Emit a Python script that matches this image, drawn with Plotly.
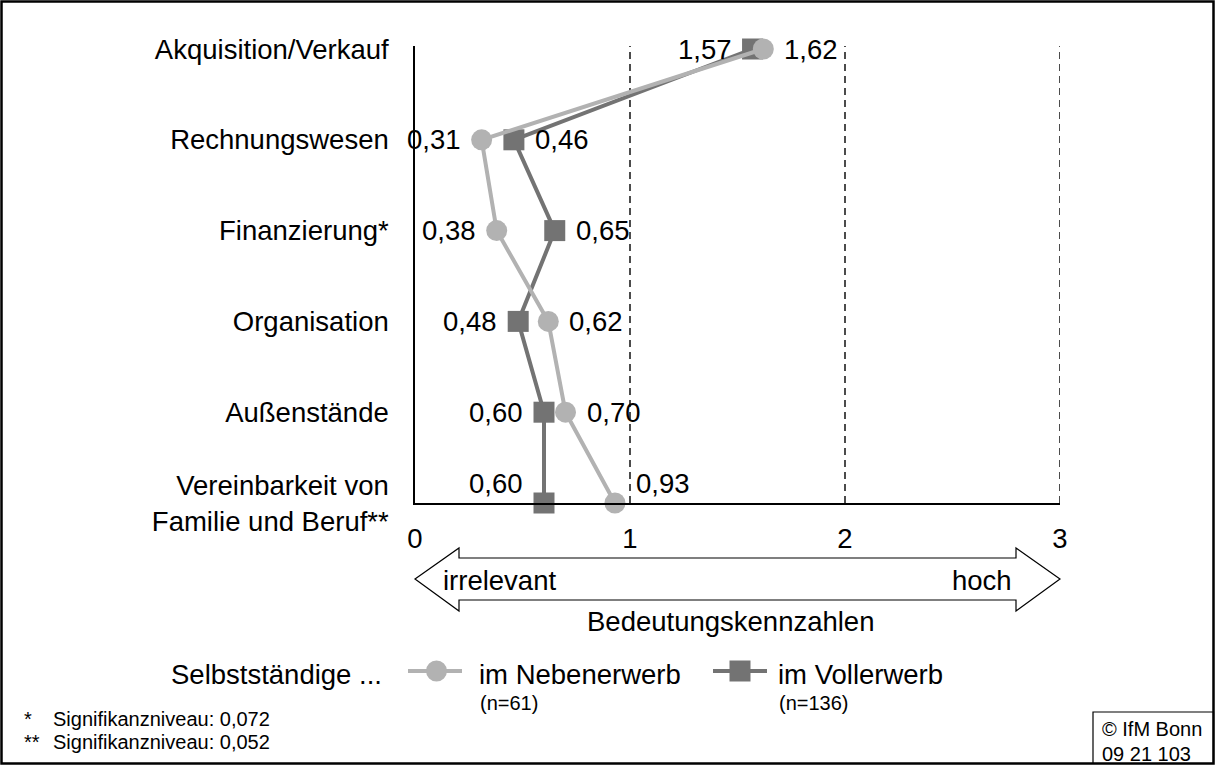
import plotly.graph_objects as go

# ---- data ----
categories = ["Akquisition/Verkauf", "Rechnungswesen", "Finanzierung*", "Organisation",
              "Außenstände", "Vereinbarkeit von<br>Familie und Beruf**"]
nebenerwerb = [1.62, 0.31, 0.38, 0.62, 0.70, 0.93]
vollerwerb = [1.57, 0.46, 0.65, 0.48, 0.60, 0.60]
neben_textpos = ["middle right", "middle left", "middle left", "middle right", "middle right", "top right"]
voll_textpos = ["middle left", "middle right", "middle right", "middle left", "middle left", "top left"]
x_ticks = [0, 1, 2, 3]
x_ticklabels = ["0", "1", "2", "3"]
series_names = ["im Nebenerwerb", "im Vollerwerb"]
series_n = ["(n=61)", "(n=136)"]
footnotes = [("*", "Signifikanzniveau: 0,072"), ("**", "Signifikanzniveau: 0,052")]

FONT = "Liberation Sans, Arial, sans-serif"
BIG = 27.5
SMALL = 20
LIGHT = "rgb(178,178,178)"
DARK = "rgb(115,115,115)"

W, H = 1215, 765
L, R, T, B = 415, 1060, 46, 503  # plot area in pixels


def px(x):
    return (x - L) / (R - L)


def py(y):
    return (B - y) / (B - T)


def fmt(v):
    return f"{v:.2f}".replace(".", ",")


fig = go.Figure()
fig.add_trace(go.Scatter(
    x=vollerwerb, y=categories, mode="lines+markers",
    line=dict(color=DARK, width=4),
    marker=dict(symbol="square", size=21, color=DARK),
    cliponaxis=False, showlegend=False, hoverinfo="skip"))
fig.add_trace(go.Scatter(
    x=nebenerwerb, y=categories, mode="lines+markers",
    line=dict(color=LIGHT, width=4),
    marker=dict(symbol="circle", size=21, color=LIGHT),
    cliponaxis=False, showlegend=False, hoverinfo="skip"))

ann = []
# data labels, anchored to the data values
for vals, poss in ((vollerwerb, voll_textpos), (nebenerwerb, neben_textpos)):
    for v, c, p in zip(vals, categories, poss):
        right = p.endswith("right")
        top = p.startswith("top")
        ann.append(dict(xref="x", yref="y", x=v, y=c, text=fmt(v), showarrow=False,
                        xanchor="left" if right else "right", yanchor="middle",
                        xshift=19 if right else -19, yshift=20 if top else 0,
                        font=dict(family=FONT, size=BIG, color="black")))

shapes = []
# dashed grid lines at tick positions (except 0 = axis)
for t in x_ticks[1:]:
    shapes.append(dict(type="line", xref="x", yref="paper", x0=t, x1=t, y0=0, y1=1,
                       line=dict(color="black", width=1.4, dash="7px,5px"), layer="below"))

# double-headed outline arrow
ax0, ax1, hb0, hb1 = L, R, L + 44, R - 44
ytip, yh0, yh1, yb0, yb1 = 579, 548, 611, 558, 600
path = (f"M {px(ax0)},{py(ytip)} L {px(hb0)},{py(yh0)} L {px(hb0)},{py(yb0)} "
        f"L {px(hb1)},{py(yb0)} L {px(hb1)},{py(yh0)} L {px(ax1)},{py(ytip)} "
        f"L {px(hb1)},{py(yh1)} L {px(hb1)},{py(yb1)} L {px(hb0)},{py(yb1)} "
        f"L {px(hb0)},{py(yh1)} Z")
shapes.append(dict(type="path", xref="paper", yref="paper", path=path,
                   line=dict(color="black", width=1.2), fillcolor="white"))

# legend symbols
leg_y = 671
shapes.append(dict(type="line", xref="paper", yref="paper", x0=px(408), x1=px(462),
                   y0=py(leg_y), y1=py(leg_y), line=dict(color=LIGHT, width=4)))
shapes.append(dict(type="circle", xref="paper", yref="paper", x0=px(426), x1=px(447),
                   y0=py(leg_y + 10.5), y1=py(leg_y - 10.5), line=dict(color=LIGHT, width=0),
                   fillcolor=LIGHT))
shapes.append(dict(type="line", xref="paper", yref="paper", x0=px(713), x1=px(767),
                   y0=py(leg_y), y1=py(leg_y), line=dict(color=DARK, width=4)))
shapes.append(dict(type="rect", xref="paper", yref="paper", x0=px(729.5), x1=px(750.5),
                   y0=py(leg_y + 10.5), y1=py(leg_y - 10.5), line=dict(color=DARK, width=0),
                   fillcolor=DARK))

# outer frame and copyright box
shapes.append(dict(type="rect", xref="paper", yref="paper", x0=px(1.5), x1=px(1213.5),
                   y0=py(763.5), y1=py(1.5), line=dict(color="black", width=2.5)))
shapes.append(dict(type="rect", xref="paper", yref="paper", x0=px(1093), x1=px(1213.5),
                   y0=py(763.5), y1=py(712), line=dict(color="black", width=1.2)))


def text(x, y, s, size, xanchor="left"):
    ann.append(dict(xref="paper", yref="paper", x=px(x), y=py(y), text=s, showarrow=False,
                    xanchor=xanchor, yanchor="middle",
                    font=dict(family=FONT, size=size, color="black")))


text(441, 580, "irrelevant", BIG)
text(1014, 580, "hoch", BIG, "right")
text(730, 621, "Bedeutungskennzahlen", BIG, "center")
text(384, 674, "Selbstständige ...", BIG, "right")
text(477, 674, series_names[0], BIG)
text(478, 703, series_n[0], SMALL)
text(776, 674, series_names[1], BIG)
text(777, 703, series_n[1], SMALL)
for i, (mark, s) in enumerate(footnotes):
    yy = 719 + i * 23
    text(22, yy, mark, SMALL)
    text(51, yy, s, SMALL)
text(1100, 729, "© IfM Bonn", SMALL)
text(1100, 754, "09 21 103", SMALL)

fig.update_layout(
    width=W, height=H,
    margin=dict(l=L, r=W - R, t=T, b=H - B, pad=0),
    paper_bgcolor="white", plot_bgcolor="white",
    font=dict(family=FONT, size=BIG, color="black"),
    shapes=shapes, annotations=ann,
    xaxis=dict(range=[0, 3], tickvals=x_ticks, ticktext=x_ticklabels,
               showgrid=False, zeroline=False, showline=True, linecolor="black", linewidth=1.5,
               ticks="outside", ticklen=10, tickcolor="rgba(0,0,0,0)",
               tickfont=dict(family=FONT, size=BIG, color="black"), fixedrange=True),
    yaxis=dict(type="category", categoryorder="array", categoryarray=categories,
               range=[5, -0.033], showgrid=False, zeroline=False,
               showline=True, linecolor="black", linewidth=1.5,
               ticks="outside", ticklen=19, tickcolor="rgba(0,0,0,0)",
               tickfont=dict(family=FONT, size=BIG, color="black"), fixedrange=True),
)

fig.write_html("out.html", config={"displayModeBar": False},
               post_script="document.body.style.margin='0';document.body.style.overflow='hidden';")
